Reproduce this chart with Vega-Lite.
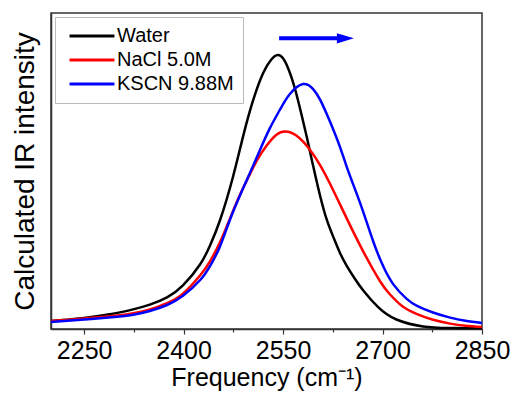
{
  "$schema": "https://vega.github.io/schema/vega-lite/v6.json",
  "width": 431,
  "height": 316,
  "autosize": "none",
  "padding": {"left": 51, "top": 13, "right": 30, "bottom": 65},
  "background": "white",
  "config": {
    "view": {"stroke": "#333", "strokeWidth": 1.5},
    "font": "Liberation Sans"
  },
  "datasets": {
    "curves": [
      {"series": "Water", "freq": 2200, "inten": 0.025},
      {"series": "Water", "freq": 2250, "inten": 0.035},
      {"series": "Water", "freq": 2274, "inten": 0.042},
      {"series": "Water", "freq": 2300, "inten": 0.051},
      {"series": "Water", "freq": 2324, "inten": 0.062},
      {"series": "Water", "freq": 2349, "inten": 0.077},
      {"series": "Water", "freq": 2375, "inten": 0.100},
      {"series": "Water", "freq": 2399, "inten": 0.138},
      {"series": "Water", "freq": 2425, "inten": 0.205},
      {"series": "Water", "freq": 2440, "inten": 0.265},
      {"series": "Water", "freq": 2455, "inten": 0.345},
      {"series": "Water", "freq": 2474, "inten": 0.478},
      {"series": "Water", "freq": 2490, "inten": 0.612},
      {"series": "Water", "freq": 2505, "inten": 0.725},
      {"series": "Water", "freq": 2520, "inten": 0.810},
      {"series": "Water", "freq": 2532, "inten": 0.852},
      {"series": "Water", "freq": 2542, "inten": 0.867},
      {"series": "Water", "freq": 2552, "inten": 0.850},
      {"series": "Water", "freq": 2562, "inten": 0.800},
      {"series": "Water", "freq": 2572, "inten": 0.728},
      {"series": "Water", "freq": 2586, "inten": 0.605},
      {"series": "Water", "freq": 2596, "inten": 0.510},
      {"series": "Water", "freq": 2606, "inten": 0.420},
      {"series": "Water", "freq": 2616, "inten": 0.345},
      {"series": "Water", "freq": 2626, "inten": 0.290},
      {"series": "Water", "freq": 2636, "inten": 0.240},
      {"series": "Water", "freq": 2646, "inten": 0.200},
      {"series": "Water", "freq": 2658, "inten": 0.160},
      {"series": "Water", "freq": 2671, "inten": 0.122},
      {"series": "Water", "freq": 2693, "inten": 0.070},
      {"series": "Water", "freq": 2721, "inten": 0.030},
      {"series": "Water", "freq": 2761, "inten": 0.008},
      {"series": "Water", "freq": 2800, "inten": 0.003},
      {"series": "Water", "freq": 2850, "inten": 0.002},
      {"series": "NaCl 5.0M", "freq": 2200, "inten": 0.025},
      {"series": "NaCl 5.0M", "freq": 2250, "inten": 0.033},
      {"series": "NaCl 5.0M", "freq": 2300, "inten": 0.043},
      {"series": "NaCl 5.0M", "freq": 2324, "inten": 0.050},
      {"series": "NaCl 5.0M", "freq": 2349, "inten": 0.062},
      {"series": "NaCl 5.0M", "freq": 2375, "inten": 0.082},
      {"series": "NaCl 5.0M", "freq": 2399, "inten": 0.112},
      {"series": "NaCl 5.0M", "freq": 2425, "inten": 0.170},
      {"series": "NaCl 5.0M", "freq": 2440, "inten": 0.215},
      {"series": "NaCl 5.0M", "freq": 2455, "inten": 0.275},
      {"series": "NaCl 5.0M", "freq": 2470, "inten": 0.350},
      {"series": "NaCl 5.0M", "freq": 2485, "inten": 0.425},
      {"series": "NaCl 5.0M", "freq": 2500, "inten": 0.490},
      {"series": "NaCl 5.0M", "freq": 2511, "inten": 0.535},
      {"series": "NaCl 5.0M", "freq": 2525, "inten": 0.580},
      {"series": "NaCl 5.0M", "freq": 2540, "inten": 0.615},
      {"series": "NaCl 5.0M", "freq": 2553, "inten": 0.625},
      {"series": "NaCl 5.0M", "freq": 2570, "inten": 0.612},
      {"series": "NaCl 5.0M", "freq": 2591, "inten": 0.566},
      {"series": "NaCl 5.0M", "freq": 2606, "inten": 0.518},
      {"series": "NaCl 5.0M", "freq": 2621, "inten": 0.459},
      {"series": "NaCl 5.0M", "freq": 2646, "inten": 0.350},
      {"series": "NaCl 5.0M", "freq": 2671, "inten": 0.245},
      {"series": "NaCl 5.0M", "freq": 2696, "inten": 0.152},
      {"series": "NaCl 5.0M", "freq": 2711, "inten": 0.110},
      {"series": "NaCl 5.0M", "freq": 2730, "inten": 0.072},
      {"series": "NaCl 5.0M", "freq": 2752, "inten": 0.047},
      {"series": "NaCl 5.0M", "freq": 2775, "inten": 0.030},
      {"series": "NaCl 5.0M", "freq": 2802, "inten": 0.017},
      {"series": "NaCl 5.0M", "freq": 2825, "inten": 0.010},
      {"series": "NaCl 5.0M", "freq": 2850, "inten": 0.006},
      {"series": "KSCN 9.88M", "freq": 2200, "inten": 0.022},
      {"series": "KSCN 9.88M", "freq": 2250, "inten": 0.030},
      {"series": "KSCN 9.88M", "freq": 2300, "inten": 0.039},
      {"series": "KSCN 9.88M", "freq": 2324, "inten": 0.045},
      {"series": "KSCN 9.88M", "freq": 2349, "inten": 0.057},
      {"series": "KSCN 9.88M", "freq": 2375, "inten": 0.076},
      {"series": "KSCN 9.88M", "freq": 2399, "inten": 0.105},
      {"series": "KSCN 9.88M", "freq": 2425, "inten": 0.155},
      {"series": "KSCN 9.88M", "freq": 2440, "inten": 0.200},
      {"series": "KSCN 9.88M", "freq": 2455, "inten": 0.262},
      {"series": "KSCN 9.88M", "freq": 2474, "inten": 0.368},
      {"series": "KSCN 9.88M", "freq": 2500, "inten": 0.494},
      {"series": "KSCN 9.88M", "freq": 2515, "inten": 0.566},
      {"series": "KSCN 9.88M", "freq": 2530, "inten": 0.635},
      {"series": "KSCN 9.88M", "freq": 2545, "inten": 0.693},
      {"series": "KSCN 9.88M", "freq": 2560, "inten": 0.743},
      {"series": "KSCN 9.88M", "freq": 2580, "inten": 0.775},
      {"series": "KSCN 9.88M", "freq": 2595, "inten": 0.760},
      {"series": "KSCN 9.88M", "freq": 2606, "inten": 0.725},
      {"series": "KSCN 9.88M", "freq": 2621, "inten": 0.655},
      {"series": "KSCN 9.88M", "freq": 2636, "inten": 0.575},
      {"series": "KSCN 9.88M", "freq": 2646, "inten": 0.513},
      {"series": "KSCN 9.88M", "freq": 2658, "inten": 0.445},
      {"series": "KSCN 9.88M", "freq": 2671, "inten": 0.370},
      {"series": "KSCN 9.88M", "freq": 2686, "inten": 0.277},
      {"series": "KSCN 9.88M", "freq": 2700, "inten": 0.203},
      {"series": "KSCN 9.88M", "freq": 2716, "inten": 0.142},
      {"series": "KSCN 9.88M", "freq": 2736, "inten": 0.096},
      {"series": "KSCN 9.88M", "freq": 2752, "inten": 0.073},
      {"series": "KSCN 9.88M", "freq": 2775, "inten": 0.053},
      {"series": "KSCN 9.88M", "freq": 2802, "inten": 0.036},
      {"series": "KSCN 9.88M", "freq": 2825, "inten": 0.026},
      {"series": "KSCN 9.88M", "freq": 2850, "inten": 0.019}
    ],
    "arrow": [
      {"start": 2544, "end": 2636, "head": 2644, "level": 0.92}
    ]
  },
  "layer": [
    {
      "data": {"name": "curves"},
      "mark": {"type": "line", "strokeWidth": 2.5, "interpolate": "natural"},
      "encoding": {
        "x": {
          "field": "freq", "type": "quantitative",
          "scale": {"domain": [2200, 2850], "nice": false, "zero": false},
          "axis": {
            "title": "Frequency (cm⁻¹)",
            "values": [2250, 2325, 2400, 2475, 2550, 2625, 2700, 2775, 2850],
            "labelExpr": "datum.value % 150 === 0 ? datum.label : ''",
            "format": "d",
            "grid": false,
            "domainColor": "#333", "domainWidth": 1.5,
            "tickColor": "#333", "tickWidth": 1.2,
            "tickSize": {"condition": {"test": "datum.value % 150 === 0", "value": 5}, "value": 3},
            "labelFontSize": 25, "labelColor": "#000", "labelPadding": 4,
            "labelFlush": false,
            "titleFontSize": 25, "titleFontWeight": "normal", "titleColor": "#000", "titlePadding": 2
          }
        },
        "y": {
          "field": "inten", "type": "quantitative",
          "scale": {"domain": [0, 1], "nice": false},
          "axis": {
            "title": "Calculated IR intensity",
            "labels": false, "ticks": false, "grid": false,
            "domainColor": "#333", "domainWidth": 1.5,
            "titleFontSize": 28, "titleFontWeight": "normal", "titleColor": "#000", "titlePadding": 12
          }
        },
        "color": {
          "field": "series", "type": "nominal",
          "scale": {"domain": ["Water", "NaCl 5.0M", "KSCN 9.88M"], "range": ["#000000", "#ff0000", "#0000ff"]},
          "legend": {
            "orient": "none", "legendX": 4, "legendY": 4,
            "title": null,
            "symbolType": "M-4,0L4,0", "symbolSize": 126, "symbolStrokeWidth": 3,
            "symbolOffset": 18,
            "labelFontSize": 20, "labelColor": "#000", "labelOffset": 15,
            "padding": 9, "strokeColor": "#bbbbbb", "fillColor": "white",
            "rowPadding": 4
          }
        }
      }
    },
    {
      "data": {"name": "arrow"},
      "mark": {"type": "rule", "color": "#0000ff", "strokeWidth": 4},
      "encoding": {
        "x": {"field": "start", "type": "quantitative"},
        "x2": {"field": "end"},
        "y": {"field": "level", "type": "quantitative"}
      }
    },
    {
      "data": {"name": "arrow"},
      "mark": {"type": "point", "shape": "M-1,-0.6L1,0L-1,0.6Z", "filled": true, "color": "#0000ff", "size": 289, "opacity": 1},
      "encoding": {
        "x": {"field": "head", "type": "quantitative"},
        "y": {"field": "level", "type": "quantitative"}
      }
    }
  ]
}
